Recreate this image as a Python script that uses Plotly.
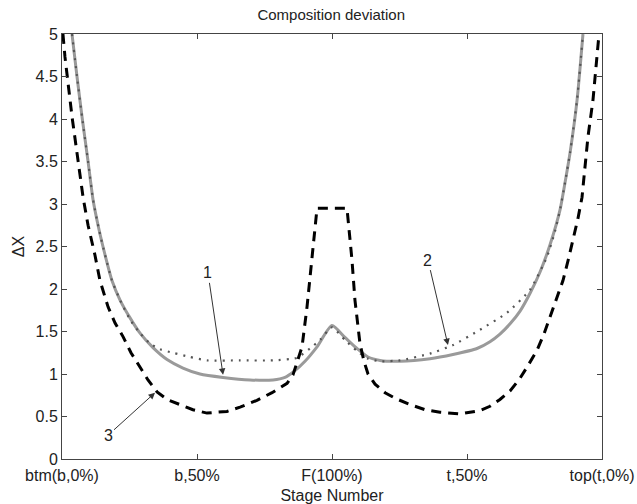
import plotly.graph_objects as go

# x in stage-position units: 0=btm, 1=b,50%, 2=F, 3=t,50%, 4=top
tick_vals = [0, 1, 2, 3, 4]
tick_text = ["btm(b,0%)", "b,50%", "F(100%)", "t,50%", "top(t,0%)"]

# curve 1 (solid grey)
x1 = [0.074, 0.111, 0.148, 0.193, 0.230, 0.274, 0.319, 0.370, 0.430, 0.504, 0.578, 0.674,
      0.778, 0.896, 1.022, 1.193, 1.393, 1.563, 1.652, 1.711, 1.800, 1.889, 2.0, 2.096,
      2.185, 2.267, 2.356, 2.504, 2.726, 2.896, 3.074, 3.170, 3.244, 3.319, 3.393, 3.467,
      3.541, 3.615, 3.689, 3.726, 3.763, 3.815, 3.859]
y1 = [5.0, 4.5, 4.03, 3.5, 3.05, 2.7, 2.4, 2.1, 1.87, 1.66, 1.48, 1.31,
      1.17, 1.07, 1.0, 0.96, 0.93, 0.93, 0.96, 1.02, 1.15, 1.32, 1.57, 1.43,
      1.3, 1.2, 1.16, 1.15, 1.18, 1.23, 1.3, 1.38, 1.47, 1.59, 1.74, 1.95,
      2.2, 2.52, 2.93, 3.25, 3.6, 4.22, 5.0]

# curve 2 (dotted)
x2 = [0.074, 0.111, 0.148, 0.193, 0.230, 0.274, 0.319, 0.370, 0.430, 0.504, 0.578, 0.652,
      0.726, 0.822, 0.948, 1.074, 1.319, 1.563, 1.741, 1.837, 1.911, 2.0, 2.096, 2.185,
      2.267, 2.356, 2.504, 2.726, 2.896, 3.096, 3.296, 3.467, 3.593, 3.652, 3.689, 3.726,
      3.763, 3.815, 3.859]
y2 = [5.0, 4.5, 4.03, 3.5, 3.05, 2.7, 2.4, 2.1, 1.87, 1.64, 1.48, 1.36,
      1.29, 1.25, 1.2, 1.16, 1.16, 1.16, 1.19, 1.3, 1.4, 1.55, 1.4, 1.27,
      1.18, 1.15, 1.16, 1.24, 1.34, 1.52, 1.72, 1.99, 2.38, 2.68, 2.93, 3.25,
      3.6, 4.22, 5.0]

# curve 3 (dashed)
x3 = [0.007, 0.022, 0.074, 0.119, 0.156, 0.193, 0.244, 0.281, 0.341, 0.393, 0.452, 0.511,
      0.578, 0.637, 0.704, 0.778, 0.874, 0.970, 1.074, 1.222, 1.319, 1.444, 1.556, 1.667,
      1.711, 1.748, 1.778, 1.815, 1.859, 1.889, 2.111, 2.148, 2.170, 2.207, 2.237, 2.267,
      2.319, 2.393, 2.474, 2.578, 2.689, 2.800, 2.948, 3.096, 3.170, 3.244, 3.319, 3.393,
      3.452, 3.519, 3.570, 3.615, 3.667, 3.711, 3.748, 3.785, 3.822, 3.852, 3.896, 3.933,
      3.978]
y3 = [5.0, 4.73, 4.03, 3.52, 3.08, 2.75, 2.4, 2.1, 1.79, 1.6, 1.44, 1.25,
      1.08, 0.93, 0.79, 0.7, 0.64, 0.58, 0.54, 0.56, 0.61, 0.69, 0.78, 0.89,
      0.99, 1.16, 1.32, 1.79, 2.46, 2.95, 2.95, 2.34, 1.87, 1.36, 1.15, 1.0,
      0.88, 0.78, 0.71, 0.64, 0.58, 0.55, 0.53, 0.57, 0.62, 0.7, 0.8, 0.95,
      1.1, 1.28, 1.47, 1.67, 1.9, 2.1, 2.33, 2.58, 2.83, 3.08, 3.79, 4.22,
      5.0]

# annotations: label, tip (x, y), text (x, y)
ann_labels = ["1", "2", "3"]
ann_tip_x = [1.193, 2.859, 0.689]
ann_tip_y = [0.99, 1.34, 0.78]
ann_txt_x = [1.081, 2.711, 0.341]
ann_txt_y = [2.19, 2.34, 0.28]

fig = go.Figure()
fig.add_trace(go.Scatter(x=x1, y=y1, mode="lines",
                         line=dict(color="#9a9a9a", width=3, shape="spline", smoothing=0.6)))
fig.add_trace(go.Scatter(x=x2, y=y2, mode="lines",
                         line=dict(color="#555555", width=2.2, dash="2px,6px", shape="spline", smoothing=0.5)))
fig.add_trace(go.Scatter(x=x3, y=y3, mode="lines",
                         line=dict(color="black", width=3, dash="10px,7px", shape="linear")))

for lab, tx, ty, ax, ay in zip(ann_labels, ann_tip_x, ann_tip_y, ann_txt_x, ann_txt_y):
    fig.add_annotation(x=tx, y=ty, ax=ax, ay=ay, xref="x", yref="y", axref="x", ayref="y",
                       text=lab, showarrow=True, arrowhead=2, arrowsize=1.3, arrowwidth=1,
                       arrowcolor="#333333", font=dict(size=16, color="#222222",
                                                      family="Liberation Sans, Arial, sans-serif"))

axis_common = dict(showline=True, linecolor="#444444", linewidth=1, mirror="ticks",
                   ticks="inside", ticklen=5, tickcolor="#444444", showgrid=False,
                   zeroline=False, automargin=False, tickfont=dict(size=16, color="#222222"))

fig.update_layout(
    width=637, height=504,
    margin=dict(l=62, r=35, t=34, b=45),
    paper_bgcolor="white", plot_bgcolor="white",
    showlegend=False,
    font=dict(family="Liberation Sans, Arial, sans-serif", color="#222222"),
    title=dict(text="Composition deviation", x=0.52, xanchor="center", y=0.97, yanchor="middle",
               font=dict(size=15, color="#222222")),
    xaxis=dict(range=[0, 4], tickvals=tick_vals, ticktext=tick_text, ticklabelstandoff=2,
               title=dict(text="Stage Number", font=dict(size=16), standoff=7), **axis_common),
    yaxis=dict(range=[0, 5], dtick=0.5, tick0=0,
               title=dict(text="ΔX", font=dict(size=16), standoff=6), **axis_common),
)

fig.write_html("out.html")
